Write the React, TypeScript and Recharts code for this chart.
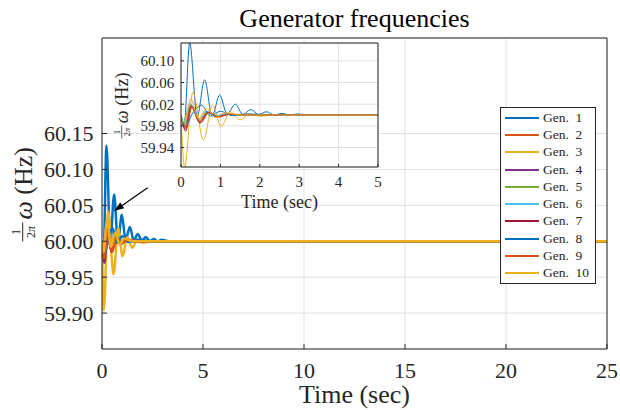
import React from "react";
import {
  LineChart,
  Line,
  XAxis,
  YAxis,
  CartesianGrid,
  Legend,
  Label,
  ReferenceLine,
} from "recharts";

// time (sec) / frequency (Hz) samples
const gen1Time = [0, 0.08, 0.22, 0.41, 0.6, 0.79, 0.98, 1.17, 1.38, 1.57, 1.77, 1.97, 2.17, 2.37, 2.56, 2.76, 2.95, 3.3, 25];
const gen1Freq = [60.0, 59.981, 60.133, 59.997, 60.065, 59.998, 60.037, 60.002, 60.02, 60.001, 60.01, 60.001, 60.006, 60.0, 60.003, 60.0, 60.002, 60.0, 60.0];
const gen2Time = [0, 0.1, 0.25, 0.46, 0.68, 0.9, 1.15, 1.6, 25];
const gen2Freq = [60.0, 59.978, 60.018, 59.989, 60.005, 59.997, 60.002, 60.0, 60.0];
const gen3Time = [0, 0.09, 0.3, 0.57, 0.8, 1.02, 1.25, 1.5, 1.75, 2.0, 2.5, 25];
const gen3Freq = [60.0, 59.904, 60.042, 59.954, 60.018, 59.979, 60.006, 59.991, 60.002, 59.998, 60.0, 60.0];
const gen4Time = [0, 0.12, 0.27, 0.48, 0.7, 0.92, 1.2, 1.7, 25];
const gen4Freq = [60.0, 59.97, 60.015, 59.985, 60.004, 59.997, 60.001, 60.0, 60.0];
const gen5Time = [0, 0.1, 0.24, 0.45, 0.66, 0.88, 1.15, 1.6, 25];
const gen5Freq = [60.0, 59.982, 60.02, 59.991, 60.006, 59.998, 60.001, 60.0, 60.0];
const gen6Time = [0, 0.06, 0.23, 0.44, 0.64, 0.86, 1.1, 1.5, 25];
const gen6Freq = [60.0, 59.988, 60.021, 59.993, 60.007, 59.998, 60.001, 60.0, 60.0];
const gen7Time = [0, 0.11, 0.26, 0.47, 0.69, 0.9, 1.2, 1.7, 25];
const gen7Freq = [60.0, 59.974, 60.017, 59.987, 60.005, 59.997, 60.001, 60.0, 60.0];
const gen8Time = [0, 0.1, 0.3, 0.52, 0.75, 1.0, 1.3, 1.7, 2.5, 25];
const gen8Freq = [60.0, 59.978, 60.004, 60.018, 59.998, 60.007, 59.999, 60.002, 60.0, 60.0];
const gen9Time = [0, 0.11, 0.28, 0.5, 0.72, 0.95, 1.25, 1.8, 25];
const gen9Freq = [60.0, 59.976, 60.014, 59.986, 60.006, 59.996, 60.002, 60.0, 60.0];
const gen10Time = [0, 0.08, 0.25, 0.45, 0.65, 0.88, 1.1, 1.5, 25];
const gen10Freq = [60.0, 59.985, 60.03, 59.992, 60.012, 59.995, 60.004, 60.0, 60.0];

const genNames = ["Gen. 1", "Gen. 2", "Gen. 3", "Gen. 4", "Gen. 5", "Gen. 6", "Gen. 7", "Gen. 8", "Gen. 9", "Gen. 10"];

const mainTimeTicks = [0, 5, 10, 15, 20, 25];
const mainFreqTicks = [59.9, 59.95, 60.0, 60.05, 60.1, 60.15];
const insetTimeTicks = [0, 1, 2, 3, 4, 5];
const insetFreqTicks = [59.94, 59.98, 60.02, 60.06, 60.1];

const genColors = ["#0072BD", "#D95319", "#EDB120", "#7E2F8E", "#77AC30", "#4DBEEE", "#A2142F", "#0072BD", "#D95319", "#EDB120"];
const ink = "#262626";
const gridColor = "#e0e0e0";
const serif = "'Liberation Serif', 'DejaVu Serif', serif";

const allTimes = [gen1Time, gen2Time, gen3Time, gen4Time, gen5Time, gen6Time, gen7Time, gen8Time, gen9Time, gen10Time];
const allFreqs = [gen1Freq, gen2Freq, gen3Freq, gen4Freq, gen5Freq, gen6Freq, gen7Freq, gen8Freq, gen9Freq, gen10Freq];

const series = genNames.map((name, i) => ({
  name,
  color: genColors[i],
  data: allTimes[i].map((t, k) => ({ t, f: allFreqs[i][k] })),
}));

// rotated "1/2pi omega (Hz)" label
const FreqLabel = (props: any) => {
  const { viewBox, s, dx } = props;
  const ox = viewBox.x + dx;
  const oy = viewBox.y + viewBox.height / 2 + 49 * s;
  return (
    <g transform={`translate(${ox},${oy}) rotate(-90) scale(${s})`} fill={ink}>
      <text x={10.5} y={-3} fontSize={12} textAnchor="middle">1</text>
      <line x1={1} x2={20} y1={0} y2={0} stroke={ink} strokeWidth={1} />
      <text x={10.5} y={12} fontSize={12} textAnchor="middle">
        2<tspan fontStyle="italic">π</tspan>
      </text>
      <text x={23} y={9} fontSize={26}>
        <tspan fontStyle="italic">ω</tspan> (Hz)
      </text>
    </g>
  );
};

const Arrow = (p: any) => {
  const { x1, y1, x2, y2 } = p;
  const a = Math.atan2(y2 - y1, x2 - x1);
  const len = 10;
  const w = 3.5;
  const bx = x2 - len * Math.cos(a);
  const by = y2 - len * Math.sin(a);
  const pts = [
    `${x2},${y2}`,
    `${bx + w * Math.sin(a)},${by - w * Math.cos(a)}`,
    `${bx - w * Math.sin(a)},${by + w * Math.cos(a)}`,
  ].join(" ");
  return (
    <g>
      <line x1={x1} y1={y1} x2={bx} y2={by} stroke="#000" strokeWidth={1.2} />
      <polygon points={pts} fill="#000" />
    </g>
  );
};

// legend in series order (the library would sort it by name)
const LegendBox = () => (
  <div
    style={{
      background: "#fff",
      border: `1px solid ${ink}`,
      boxSizing: "border-box",
      width: 96,
      padding: "1px 0",
      fontFamily: serif,
      fontSize: 13.5,
      color: ink,
    }}
  >
    {series.map((s) => (
      <div key={s.name} style={{ display: "flex", alignItems: "center", height: 17.3 }}>
        <svg width={42} height={4} style={{ flex: "none" }}>
          <line x1={4} x2={38} y1={2} y2={2} stroke={s.color} strokeWidth={2} />
        </svg>
        <span style={{ whiteSpace: "pre" }}>{s.name.replace(". ", ".  ")}</span>
      </div>
    ))}
  </div>
);

const fmt2 = (v: number) => v.toFixed(2);

const App = () => {
  return (
    <div
      style={{
        position: "absolute",
        left: 0,
        top: 0,
        width: 620,
        height: 410,
        background: "#fff",
        fontFamily: serif,
      }}
    >
      <LineChart width={620} height={410} margin={{ top: 0, right: 0, bottom: 0, left: 0 }}>
        <CartesianGrid stroke={gridColor} />
        <XAxis
          dataKey="t"
          type="number"
          domain={[0, 25]}
          ticks={mainTimeTicks}
          interval={0}
          allowDataOverflow
          height={61}
          stroke={ink}
          tickSize={-5}
          tickMargin={18.5}
          tick={{ fontSize: 22, fill: ink }}
        >
          <Label value="Time (sec)" position="insideBottom" offset={7} fontSize={26} fill={ink} />
        </XAxis>
        <XAxis
          xAxisId="top"
          orientation="top"
          type="number"
          domain={[0, 25]}
          ticks={mainTimeTicks}
          interval={0}
          allowDataOverflow
          height={38}
          stroke={ink}
          tickSize={-5}
          tick={false}
        >
          <Label value="Generator frequencies" position="insideBottom" offset={11} fontSize={26} fill="#000" />
        </XAxis>
        <YAxis
          type="number"
          domain={[59.85, 60.283]}
          ticks={mainFreqTicks}
          interval={0}
          allowDataOverflow
          width={102}
          stroke={ink}
          tickSize={-5}
          tickMargin={13.5}
          tickFormatter={fmt2}
          tick={{ fontSize: 22, fill: ink }}
        >
          <Label content={(p: any) => <FreqLabel {...p} s={1} dx={22.7} />} />
        </YAxis>
        <YAxis
          yAxisId="right"
          orientation="right"
          type="number"
          domain={[59.85, 60.283]}
          ticks={mainFreqTicks}
          interval={0}
          allowDataOverflow
          width={13}
          stroke={ink}
          tickSize={-5}
          tick={false}
        />
        {series.map((s) => (
          <Line
            key={s.name}
            data={s.data}
            dataKey="f"
            name={s.name}
            type="monotone"
            stroke={s.color}
            strokeWidth={2.5}
            dot={false}
            activeDot={false}
            isAnimationActive={false}
          />
        ))}
        <ReferenceLine
          segment={[
            { x: 2.26, y: 60.0746 },
            { x: 0.594, y: 60.042 },
          ]}
          shape={Arrow}
        />
        <Legend
          layout="horizontal"
          verticalAlign="middle"
          content={LegendBox}
          wrapperStyle={{ position: "absolute", left: 500, top: 107, width: 96, height: 175 }}
        />
      </LineChart>

      <div style={{ position: "absolute", left: 100, top: 35, width: 290, height: 185 }}>
        <LineChart width={290} height={185} margin={{ top: 0, right: 0, bottom: 0, left: 0 }}>
          <CartesianGrid stroke={gridColor} fill="#fff" fillOpacity={1} />
          <XAxis
            dataKey="t"
            type="number"
            domain={[0, 5]}
            ticks={insetTimeTicks}
            interval={0}
            allowDataOverflow
            height={53}
            stroke={ink}
            tickSize={-3}
            tickMargin={12.2}
            tick={{ fontSize: 15, fill: ink }}
          >
            <Label value="Time (sec)" position="insideBottom" offset={12} fontSize={18} fill={ink} />
          </XAxis>
          <XAxis
            xAxisId="top"
            orientation="top"
            type="number"
            domain={[0, 5]}
            ticks={insetTimeTicks}
            interval={0}
            allowDataOverflow
            height={8}
            stroke={ink}
            tickSize={-3}
            tick={false}
          />
          <YAxis
            type="number"
            domain={[59.904, 60.133]}
            ticks={insetFreqTicks}
            interval={0}
            allowDataOverflow
            width={81}
            stroke={ink}
            tickSize={-3}
            tickMargin={9.7}
            tickFormatter={fmt2}
            tick={{ fontSize: 15, fill: ink }}
          >
            <Label content={(p: any) => <FreqLabel {...p} s={0.7} dx={21.7} />} />
          </YAxis>
          <YAxis
            yAxisId="right"
            orientation="right"
            type="number"
            domain={[59.904, 60.133]}
            ticks={insetFreqTicks}
            interval={0}
            allowDataOverflow
            width={12}
            stroke={ink}
            tickSize={-3}
            tick={false}
          />
          {series.map((s) => (
            <Line
              key={s.name}
              data={s.data}
              dataKey="f"
              name={s.name}
              type="monotone"
              stroke={s.color}
              strokeWidth={1}
              dot={false}
              activeDot={false}
              isAnimationActive={false}
            />
          ))}
        </LineChart>
      </div>
    </div>
  );
};

export default App;
